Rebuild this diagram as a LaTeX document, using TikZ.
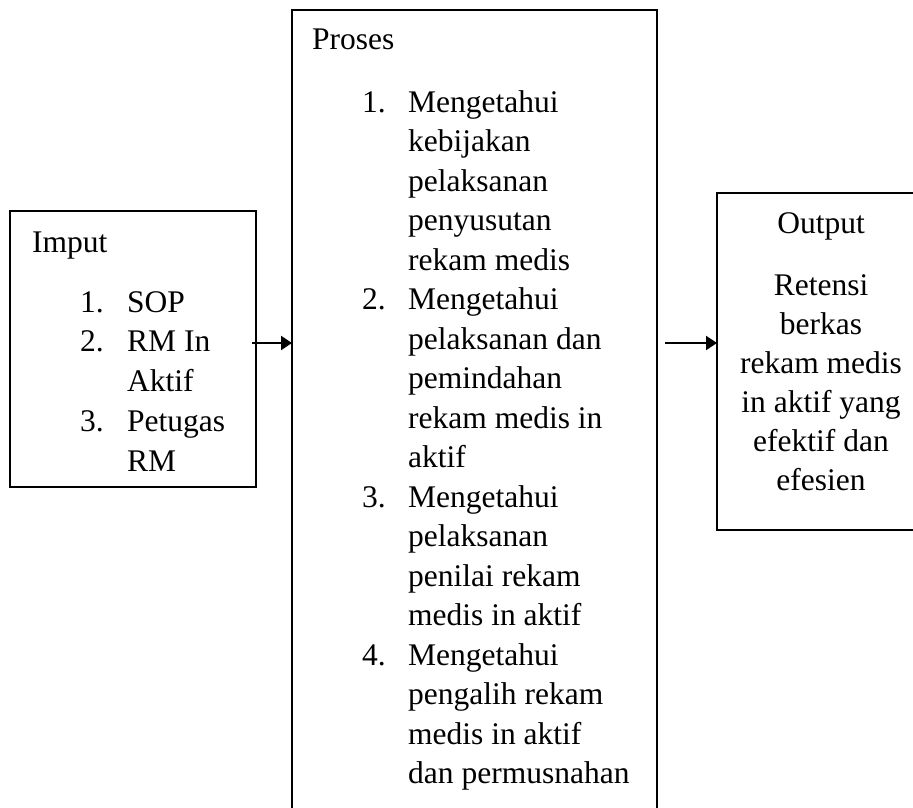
\documentclass[tikz,border=0pt]{standalone}
\usepackage{fontspec}
\setmainfont{Liberation Serif}
\usetikzlibrary{arrows.meta}
\begin{document}
\begin{tikzpicture}[x=1pt,y=-1pt,
  box/.style={draw,line width=2.3pt,inner sep=0pt,outer sep=0pt,anchor=north west},
  txt/.style={inner sep=0pt,anchor=base west,font=\fontsize{31.5}{39.5}\selectfont},
  ctxt/.style={inner sep=0pt,anchor=base,font=\fontsize{31.5}{39.5}\selectfont},
  arr/.style={line width=2.3pt,-{Triangle[length=11pt,width=14pt]}}]
\useasboundingbox (0,0) rectangle (913,808);
\clip (0,0) rectangle (913,808);
% boxes
\node[box, minimum width=246pt, minimum height=276pt] (in) at (10,211) {};
\node[box, minimum width=365pt, minimum height=830pt] (mid) at (292,10) {};
\node[box, minimum width=208pt, minimum height=337pt] (out) at (717,193) {};
% input text
\node[txt] (intitle) at (32,252) {Imput};
\node[txt] (in1n) at (80,312) {1.};
\node[txt] (in1) at (127,312) {SOP};
\node[txt] (in2n) at (80,351.75) {2.};
\node[txt] (in2a) at (127,351.75) {RM In};
\node[txt] (in2b) at (127,391.5) {Aktif};
\node[txt] (in3n) at (80,431.25) {3.};
\node[txt] (in3a) at (127,431.25) {Petugas};
\node[txt] (in3b) at (127,471) {RM};
% process text
\node[txt] (midtitle) at (312,49) {Proses};
\foreach \t [count=\i from 0] in {Mengetahui,kebijakan,pelaksanan,penyusutan,rekam medis,
  Mengetahui,pelaksanan dan,pemindahan,rekam medis in,aktif,
  Mengetahui,pelaksanan,penilai rekam,medis in aktif,
  Mengetahui,pengalih rekam,medis in aktif,dan permusnahan}
  \node[txt] (m\i) at (408,112+39.5*\i) {\t};
\node[txt] (mn1) at (362,112) {1.};
\node[txt] (mn2) at (362,112+39.5*5) {2.};
\node[txt] (mn3) at (362,112+39.5*10) {3.};
\node[txt] (mn4) at (362,112+39.5*14) {4.};
% output text
\node[ctxt] (outtitle) at (821,233) {Output};
\foreach \t [count=\i from 0] in {Retensi,berkas,rekam medis,in aktif yang,efektif dan,efesien}
  \node[ctxt] (o\i) at (821,295+39*\i) {\t};
% arrows
\coordinate (a1) at (252,343);
\coordinate (a2) at (665,343);
\draw[arr] (a1) -- (a1 -| mid.west);
\draw[arr] (a2) -- (a2 -| out.west);
\end{tikzpicture}
\end{document}
